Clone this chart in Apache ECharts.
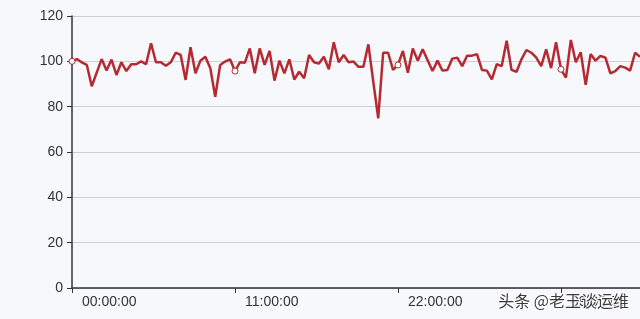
<!DOCTYPE html>
<html>
<head>
<meta charset="utf-8">
<script src="https://cdn.jsdelivr.net/npm/echarts@6/dist/echarts.min.js"></script>
<style>
html,body{margin:0;padding:0;background:#f7f8fc;}
#c{width:640px;height:319px;}
</style>
</head>
<body>
<div id="c"></div>
<script>
// 20-minute samples starting at 00:00:00
const startHour = 0;
const stepMinutes = 20;
const values = [
  100, 101, 99.5, 98.4, 89, 95, 101, 96, 100.8, 94,
  99.6, 95.7, 98.7, 98.7, 100, 98.7, 108, 99.6, 99.6, 98,
  99.6, 103.8, 102.8, 91.8, 106.2, 94.7, 100.3, 102, 97, 84.4,
  98.4, 99.9, 100.9, 95.7, 99.6, 99.4, 105.7, 94.7, 105.7, 98.4,
  104.6, 91.5, 100.3, 94.7, 100.9, 92, 95.4, 92.5, 102.8, 99.6,
  99, 102, 96.5, 108.4, 99.6, 102.8, 99.6, 99.9, 97.6, 97.6,
  107.5, 91, 74.8, 103.8, 103.8, 96.2, 98.4, 104.6, 95, 105.7,
  100.3, 105.3, 100.5, 95.7, 100.3, 95.9, 96.2, 101.2, 101.6, 97.9,
  102.5, 102.5, 103.2, 96.2, 95.9, 92, 98.8, 97.9, 109.1, 96.2,
  95.4, 100.9, 105, 103.8, 101.6, 97.9, 105.3, 97, 108.4, 96.5,
  92.8, 109.4, 99.6, 104, 89.6, 103.2, 100.3, 102.4, 101.6, 94.7,
  95.7, 97.9, 97.2, 95.9, 103.8, 102
];
const categories = values.map(function (_, i) {
  const total = startHour * 60 + i * stepMinutes;
  const h = Math.floor(total / 60) % 24;
  const m = total % 60;
  return String(h).padStart(2, '0') + ':' + String(m).padStart(2, '0') + ':00';
});
const yTicks = [0, 20, 40, 60, 80, 100, 120];
const watermark = '头条 @老王谈运维';

const chart = echarts.init(document.getElementById('c'), null, {renderer: 'canvas'});
chart.setOption({
  backgroundColor: '#f7f8fc',
  animation: false,
  textStyle: {fontFamily: 'Liberation Sans, Arial, sans-serif'},
  grid: {left: 72, right: 0, top: 16, bottom: 31, containLabel: false},
  xAxis: {
    type: 'category',
    data: categories,
    boundaryGap: false,
    axisLine: {lineStyle: {color: '#333', width: 1.5}},
    axisTick: {interval: 32, length: 5, lineStyle: {color: '#333'}},
    axisLabel: {
      interval: 32, color: '#333', fontSize: 14, align: 'left',
      padding: [0, 0, 0, 10], margin: 7
    },
    splitLine: {show: false}
  },
  yAxis: {
    type: 'value',
    min: yTicks[0],
    max: yTicks[yTicks.length - 1],
    interval: 20,
    axisLine: {show: true, lineStyle: {color: '#333', width: 1.5}},
    axisTick: {show: true, length: 5, lineStyle: {color: '#333'}},
    axisLabel: {color: '#333', fontSize: 14, margin: 9},
    splitLine: {lineStyle: {color: '#cfcfd4', width: 1}}
  },
  series: [{
    type: 'line',
    data: values,
    showSymbol: true,
    showAllSymbol: 'auto',
    symbol: 'circle',
    symbolSize: 6,
    itemStyle: {color: '#fff', borderColor: '#b52a31', borderWidth: 1},
    lineStyle: {color: '#b52a31', width: 2.5},
    clip: false
  }],
  graphic: [{
    type: 'text',
    right: 10,
    top: 292,
    z: 100,
    style: {
      text: watermark,
      fill: '#3a3a3a',
      font: '16px "Noto Sans CJK SC", sans-serif',
      stroke: '#ffffff',
      lineWidth: 2
    }
  }]
});
</script>
</body>
</html>
